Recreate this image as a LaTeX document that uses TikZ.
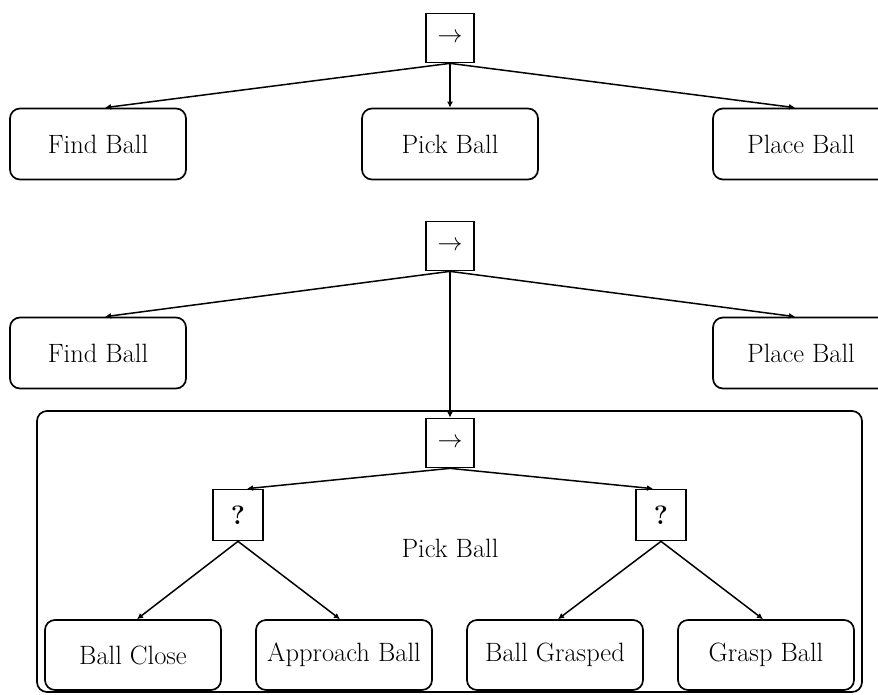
\documentclass[tikz,border=0pt]{standalone}
\usetikzlibrary{arrows.meta,calc}
\begin{document}
\begin{tikzpicture}[x=1pt,y=-1pt,
  every node/.style={font=\fontsize{26.5}{30}\selectfont},
  leaf/.style={draw,line width=1.7pt,rounded corners=10pt,minimum width=176pt,minimum height=71pt,inner sep=0pt},
  ctrl/.style={draw,line width=1.7pt,minimum width=48pt,minimum height=49pt,inner sep=0pt},
  fb/.style={draw,line width=1.7pt,minimum width=50pt,minimum height=51pt,inner sep=0pt},
  conn/.style={line width=1.5pt,-{Latex[length=6pt,width=6pt]}}]
\clip (0,0) rectangle (878,694);
\fill[white] (0,0) rectangle (878,694);
% top tree
\node[ctrl] (s1) at (450,38) {$\rightarrow$};
\node[leaf] (f1) at (98,144) {Find Ball};
\node[leaf] (p1) at (450,144) {Pick Ball};
\node[leaf] (l1) at (801,144) {Place Ball};
\draw[conn] (s1.south) -- ($(f1.north)+(7,0)$);
\draw[conn] (s1.south) -- (p1.north);
\draw[conn] (s1.south) -- ($(l1.north)+(-6,0)$);
% second tree
\node[ctrl] (s2) at (450,246) {$\rightarrow$};
\node[leaf] (f2) at (98,353) {Find Ball};
\node[leaf] (l2) at (801,353) {Place Ball};
\node[draw,line width=1.7pt,rounded corners=10pt,minimum width=825pt,minimum height=281pt,inner sep=0pt] (cont) at (449.5,551.5) {};
\node[ctrl] (s3) at (450,443) {$\rightarrow$};
\node (lbl) at (450,548) {Pick Ball};
\node[fb] (q1) at (238,515) {\textbf{?}};
\node[fb] (q2) at (661,515) {\textbf{?}};
\node[leaf,minimum height=70pt] (b1) at (133,655) {Ball Close};
\node[leaf,minimum height=70pt] (b2) at (344,655) {Approach Ball};
\node[leaf,minimum height=70pt] (b3) at (555,655) {Ball Grasped};
\node[leaf,minimum height=70pt] (b4) at (766,655) {Grasp Ball};
\draw[conn] (s2.south) -- ($(f2.north)+(7,0)$);
\draw[conn] (s2.south) -- ($(l2.north)+(-6,0)$);
\draw[conn] (s2.south) -- (s3.north);
\draw[conn] (s3.south) -- ($(q1.north)+(9,0)$);
\draw[conn] (s3.south) -- ($(q2.north)+(-8,0)$);
\draw[conn] (q1.south) -- ($(b1.north)+(4,0)$);
\draw[conn] (q1.south) -- ($(b2.north)+(-4,0)$);
\draw[conn] (q2.south) -- ($(b3.north)+(3,0)$);
\draw[conn] (q2.south) -- ($(b4.north)+(-3,0)$);
\end{tikzpicture}
\end{document}
